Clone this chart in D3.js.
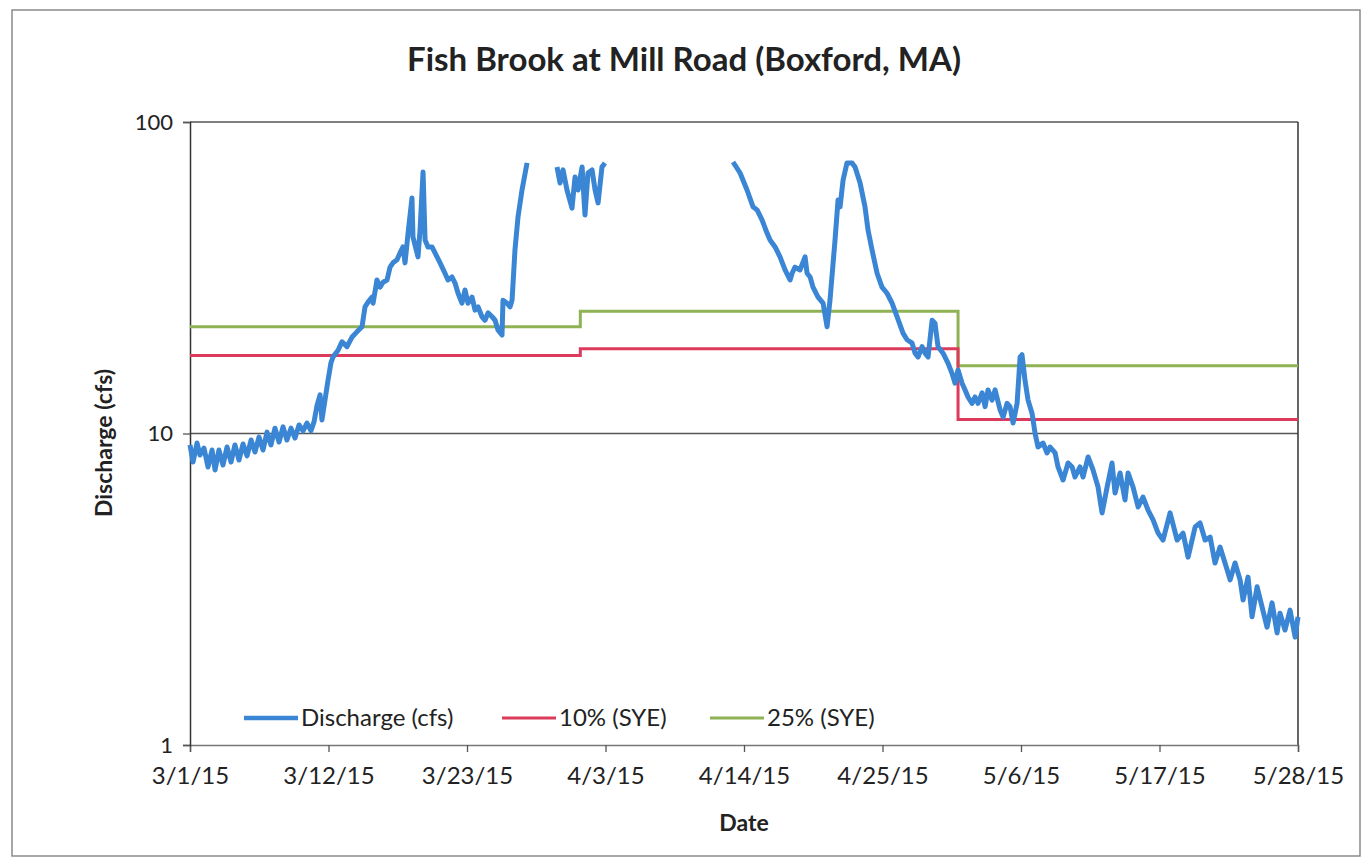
<!DOCTYPE html>
<html>
<head>
<meta charset="utf-8">
<script src="https://cdn.jsdelivr.net/npm/d3@7"></script>
<style>
  body { margin: 0; background: #fff; }
  text { font-family: Lato, "Open Sans", sans-serif; fill: #222; }
</style>
</head>
<body>
<div id="chart"></div>
<script>
// Days since 3/1/15 (fractional) and discharge in cfs; null = gap in record
const dischargeDay = [
  0.00, 0.24, 0.56, 0.79, 1.11, 1.43, 1.75, 1.99, 2.30, 2.62, 2.94, 3.26, 3.57, 3.89, 4.21, 4.53,
  4.85, 5.16, 5.48, 5.80, 6.12, 6.43, 6.75, 7.07, 7.39, 7.70, 8.02, 8.34, 8.66, 8.98, 9.29, 9.61,
  9.85, 10.09, 10.33, 10.48, 10.72, 10.96, 11.20, 11.36, 11.76, 12.07, 12.47, 12.87, 13.26, 13.66,
  13.90, 14.14, 14.46, 14.54, 14.85, 15.09, 15.33, 15.65, 15.89, 16.12, 16.44, 16.68, 16.92, 17.08,
  17.32, 17.63, 17.71, 18.03, 18.11, 18.27, 18.51, 18.67, 18.90, 19.22, 19.46, 19.86, 20.25, 20.49,
  20.81, 21.05, 21.29, 21.60, 21.84, 22.08, 22.40, 22.64, 22.88, 23.19, 23.43, 23.67, 23.99, 24.23,
  24.46, 24.78, 24.86, 25.18, 25.42, 25.58, 25.81, 26.05, 26.37, 26.77,
  28.00,
  29.15, 29.39, 29.63, 29.94, 30.34, 30.58, 30.82, 31.14, 31.37, 31.61, 31.93, 32.17, 32.41, 32.72, 32.96,
  38.00,
  43.13, 43.69, 44.24, 44.72, 45.04, 45.43, 45.83, 46.07, 46.47, 46.86, 47.26, 47.66, 47.82, 48.05,
  48.45, 48.85, 49.01, 49.25, 49.48, 49.88, 50.28, 50.60, 50.83, 51.23, 51.47, 51.63, 51.87, 52.18,
  52.58, 52.82, 53.22, 53.61, 53.85, 54.17, 54.57, 54.96, 55.36, 55.76, 56.16, 56.63, 56.95, 57.35,
  57.59, 57.82, 58.14, 58.38, 58.62, 58.94, 59.17, 59.41, 59.81, 60.21, 60.52, 60.76, 61.00, 61.32,
  61.56, 61.79, 62.11, 62.35, 62.59, 62.91, 63.15, 63.38, 63.70, 63.94, 64.34, 64.58, 64.89, 65.13,
  65.37, 65.69, 65.93, 66.08, 66.32, 66.56, 66.88, 67.12, 67.35, 67.75, 68.07, 68.31, 68.71, 68.94,
  69.34, 69.74, 70.06, 70.29, 70.69, 70.93, 71.33, 71.72, 72.12, 72.44, 72.84, 73.23, 73.47, 73.87,
  74.26, 74.50, 74.90, 75.30, 75.69, 76.09, 76.49, 76.89, 77.28, 77.84, 78.40, 78.87, 79.27, 79.83,
  80.22, 80.62, 81.02, 81.41, 81.81, 82.37, 82.61, 83.00, 83.40, 83.64, 84.03, 84.35, 84.75, 85.15,
  85.54, 85.94, 86.34, 86.57, 86.97, 87.37, 87.77, 88.00
];
const dischargeCfs = [
  9.19, 8.10, 9.32, 8.53, 8.98, 7.81, 8.85, 7.64, 8.85, 7.92, 9.05, 8.10, 9.19, 8.22, 9.25, 8.47,
  9.53, 8.72, 9.74, 8.85, 10.1, 9.19, 10.4, 9.39, 10.5, 9.53, 10.4, 9.67, 10.65, 10.2, 10.8, 10.2,
  10.9, 12.3, 13.3, 11.05, 12.8, 14.8, 16.9, 17.6, 18.5, 19.7, 19.0, 20.4, 21.2, 22.0,
  25.5, 26.4, 27.4, 26.2, 31.1, 29.5, 30.6, 31.1, 34.2, 35.3, 36.1, 38.0, 39.7, 35.3,
  44.0, 57.0, 42.7, 38.0, 36.9, 45.0, 69.1, 41.8, 39.7, 39.7, 38.0, 35.3, 32.7, 31.1,
  31.8, 30.4, 28.2, 26.2, 28.9, 26.2, 27.4, 24.9, 25.5, 23.7, 23.1, 24.4, 23.7, 23.1,
  21.5, 20.7, 26.8, 26.2, 25.5, 26.8, 38.8, 49.5, 60.5, 73.9,
  null,
  71.7, 63.7, 70.2, 60.5, 52.9, 66.6, 60.5, 71.7, 50.3, 68.6, 70.2, 60.5, 55.0, 71.7, 73.9,
  null,
  74.4, 68.6, 60.5, 53.4, 52.2, 48.5, 44.0, 41.8, 39.7, 36.9, 33.5, 31.1, 32.7, 34.2,
  33.5, 36.9, 32.7, 31.8, 29.5, 27.4, 26.2, 22.0, 26.8, 41.8, 56.2, 53.4, 65.1, 73.9,
  73.9, 71.7, 63.7, 53.4, 45.0, 38.8, 32.7, 29.5, 28.2, 26.2, 23.7, 21.0, 20.0, 19.5,
  18.1, 17.6, 19.0, 18.1, 17.6, 23.1, 22.6, 19.0, 18.1, 16.8, 15.6, 14.5, 16.0, 14.5,
  13.8, 13.1, 12.5, 13.1, 12.5, 13.5, 12.2, 13.8, 12.8, 13.8, 11.9, 11.3, 12.5, 12.2,
  10.8, 12.5, 17.6, 17.9, 14.8, 12.8, 11.6, 10.0, 9.05, 9.32, 8.66, 9.05, 8.66, 7.81,
  7.09, 8.04, 7.81, 7.25, 7.81, 7.25, 8.41, 7.64, 6.73, 5.56, 6.73, 8.04, 6.44, 7.47,
  6.12, 7.47, 6.73, 5.81, 6.25, 5.68, 5.28, 4.79, 4.55, 5.56, 4.55, 4.79, 4.01, 5.01,
  5.16, 4.55, 4.65, 3.84, 4.32, 3.65, 3.39, 3.84, 3.39, 2.92, 3.46, 2.58, 3.22, 2.77,
  2.39, 2.86, 2.29, 2.65, 2.34, 2.71, 2.22, 2.58
];

// Monthly streamflow thresholds (step lines)
const thresholdDates = ["2015-03-01", "2015-04-01", "2015-05-01", "2015-05-28"];
const sye10 = [17.8, 18.7, 11.1];
const sye25 = [22.0, 24.7, 16.5];

const seriesNames = ["Discharge (cfs)", "10% (SYE)", "25% (SYE)"];
const seriesColors = ["#3a86d4", "#dc3b5b", "#8fb254"];

const xTickDates = ["2015-03-01", "2015-03-12", "2015-03-23", "2015-04-03", "2015-04-14",
  "2015-04-25", "2015-05-06", "2015-05-17", "2015-05-28"];
const yTickValues = [1, 10, 100];

const W = 1367, H = 862;
const plot = { left: 190, right: 1298, top: 122, bottom: 745 };

const svg = d3.select("#chart").append("svg")
  .attr("width", W).attr("height", H);

// outer chart frame
svg.append("rect")
  .attr("x", 12).attr("y", 10).attr("width", 1348).attr("height", 846)
  .attr("fill", "#fff").attr("stroke", "#8a8a8a").attr("stroke-width", 1.5);

const parse = d3.utcParse("%Y-%m-%d");
const start = parse("2015-03-01");
const dayToDate = d => new Date(start.getTime() + d * 86400000);

const x = d3.scaleUtc()
  .domain([start, parse("2015-05-28")])
  .range([plot.left, plot.right]);

const y = d3.scaleLog()
  .domain([1, 100])
  .range([plot.bottom, plot.top]);

// gridlines
svg.append("g")
  .selectAll("line")
  .data(yTickValues.slice(1))
  .join("line")
  .attr("x1", plot.left).attr("x2", plot.right)
  .attr("y1", d => y(d)).attr("y2", d => y(d))
  .attr("stroke", "#555").attr("stroke-width", 1.3);

// right border of plot area
svg.append("line")
  .attr("x1", plot.right).attr("x2", plot.right)
  .attr("y1", plot.top).attr("y2", plot.bottom)
  .attr("stroke", "#333").attr("stroke-width", 1.5);

// axes
const xAxis = svg.append("g")
  .attr("transform", `translate(0,${plot.bottom})`)
  .call(d3.axisBottom(x)
    .tickValues(xTickDates.map(parse))
    .tickFormat(d3.utcFormat("%-m/%-d/%y"))
    .tickSize(7).tickPadding(15));
xAxis.select(".domain").attr("stroke", "#777").attr("stroke-width", 1.5);
xAxis.selectAll(".tick line").attr("stroke", "#555").attr("stroke-width", 1.3);
xAxis.selectAll("text").attr("font-size", 24).attr("fill", "#222")
  .attr("font-family", "Lato, 'Open Sans', sans-serif");

const yAxis = svg.append("g")
  .attr("transform", `translate(${plot.left},0)`)
  .call(d3.axisLeft(y)
    .tickValues(yTickValues)
    .tickFormat(d3.format("d"))
    .tickSize(7).tickPadding(10));
yAxis.select(".domain").attr("stroke", "#333").attr("stroke-width", 1.5);
yAxis.selectAll(".tick line").attr("stroke", "#555").attr("stroke-width", 1.3);
yAxis.selectAll("text").attr("font-size", 22).attr("fill", "#222")
  .attr("font-family", "Lato, 'Open Sans', sans-serif");

// threshold step lines
const thresholdLine = d3.line()
  .x(d => x(d.date))
  .y(d => y(d.v))
  .curve(d3.curveStepAfter);

function thresholdPoints(values) {
  const pts = values.map((v, i) => ({ date: parse(thresholdDates[i]), v }));
  pts.push({ date: parse(thresholdDates[thresholdDates.length - 1]), v: values[values.length - 1] });
  return pts;
}

svg.append("path")
  .datum(thresholdPoints(sye25))
  .attr("fill", "none")
  .attr("stroke", seriesColors[2])
  .attr("stroke-width", 3)
  .attr("d", thresholdLine);

svg.append("path")
  .datum(thresholdPoints(sye10))
  .attr("fill", "none")
  .attr("stroke", seriesColors[1])
  .attr("stroke-width", 3)
  .attr("d", thresholdLine);

// discharge line
const discharge = dischargeDay.map((d, i) => ({ date: dayToDate(d), v: dischargeCfs[i] }));

svg.append("path")
  .datum(discharge)
  .attr("fill", "none")
  .attr("stroke", seriesColors[0])
  .attr("stroke-width", 5)
  .attr("stroke-linejoin", "round")
  .attr("d", d3.line()
    .defined(d => d.v != null)
    .x(d => x(d.date))
    .y(d => y(d.v)));

// legend
const legendX = [244, 502, 710];
const legend = svg.append("g")
  .selectAll("g")
  .data(seriesNames)
  .join("g")
  .attr("transform", (d, i) => `translate(${legendX[i]},718)`);

legend.append("line")
  .attr("x1", 0).attr("x2", 54)
  .attr("stroke", (d, i) => seriesColors[i])
  .attr("stroke-width", (d, i) => i === 0 ? 4.5 : 3);

legend.append("text")
  .attr("x", 57).attr("dy", "0.35em")
  .attr("font-size", 24)
  .text(d => d);

// titles
svg.append("text")
  .attr("x", 684).attr("y", 71)
  .attr("text-anchor", "middle")
  .attr("font-size", 33).attr("font-weight", "bold")
  .text("Fish Brook at Mill Road (Boxford, MA)");

svg.append("text")
  .attr("x", 744).attr("y", 831)
  .attr("text-anchor", "middle")
  .attr("font-size", 23).attr("font-weight", "bold")
  .text("Date");

svg.append("text")
  .attr("transform", "translate(112,443) rotate(-90)")
  .attr("text-anchor", "middle")
  .attr("font-size", 23).attr("font-weight", "bold")
  .text("Discharge (cfs)");
</script>
</body>
</html>
